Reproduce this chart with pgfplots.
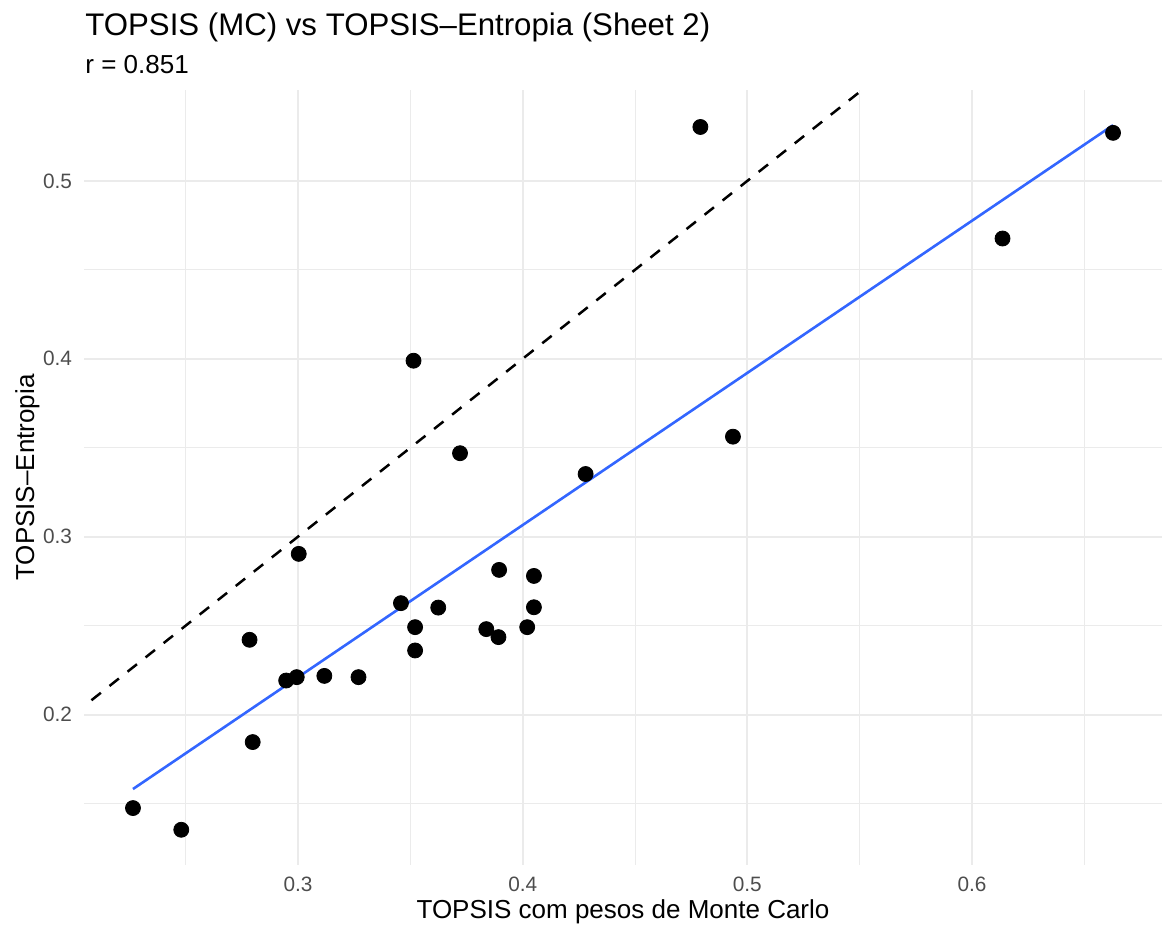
\documentclass[border=0pt]{standalone}
\usepackage{fontspec}
\setmainfont{Liberation Sans}
\usepackage{pgfplots}
\pgfplotsset{compat=1.18}
\definecolor{gridmaj}{HTML}{EBEBEB}
\definecolor{ticklab}{HTML}{4D4D4D}
\definecolor{smoothblue}{HTML}{3366FF}
\begin{document}
\begin{tikzpicture}
\useasboundingbox (0,0) rectangle (581pt,464.5pt);
\begin{axis}[
 at={(42pt,32pt)}, anchor=south west,
 scale only axis, width=539pt, height=387.5pt,
 xmin=0.2047, xmax=0.6846, ymin=0.1154, ymax=0.5511,
 xtick={0.3,0.4,0.5,0.6}, ytick={0.2,0.3,0.4,0.5},
 minor xtick={0.25,0.35,0.45,0.55,0.65}, minor ytick={0.15,0.25,0.35,0.45},
 xticklabels={0.3,0.4,0.5,0.6}, yticklabels={0.2,0.3,0.4,0.5},
 grid=both,
 major grid style={draw=gridmaj, line width=1pt},
 minor grid style={draw=gridmaj, line width=0.5pt},
 axis line style={draw=none},
 tick style={draw=none},
 ticklabel style={font=\fontsize{10.4}{12}\selectfont, text=ticklab},
 xticklabel style={yshift=-2.5pt},
 yticklabel style={xshift=-2.5pt},
 /pgf/number format/assume math mode=true,
 clip=true,
]
\addplot[black, line width=1.25pt, dash pattern=on 6pt off 5.5pt] coordinates {(0.2,0.2) (0.6,0.6)};
\addplot[smoothblue, line width=1.3pt] coordinates {(0.2265,0.1581) (0.6628,0.5313)};
\addplot[only marks, mark=*, mark size=3.75pt, black] coordinates {
(0.2265,0.1474) (0.2480,0.1352) (0.2784,0.2420) (0.2798,0.1845)
(0.2947,0.2191) (0.2994,0.2210) (0.3117,0.2217) (0.3269,0.2210)
(0.3458,0.2626) (0.3624,0.2601) (0.3521,0.2491) (0.3521,0.2360)
(0.3514,0.3989) (0.3721,0.3469) (0.4280,0.3352) (0.3003,0.2903)
(0.3895,0.2813) (0.4050,0.2779) (0.4050,0.2603) (0.3838,0.2480)
(0.3892,0.2435) (0.4020,0.2491) (0.4791,0.5303) (0.6628,0.5270)
(0.6136,0.4676) (0.4936,0.3562)
};
\end{axis}
\node[anchor=base west, inner sep=0pt, font=\fontsize{15.6}{18}\selectfont] at (42.5pt,446.5pt) {TOPSIS (MC) vs TOPSIS–Entropia (Sheet 2)};
\node[anchor=base west, inner sep=0pt, font=\fontsize{13}{15}\selectfont] at (42.5pt,427.5pt) {r = 0.851};
\node[anchor=base, inner sep=0pt, font=\fontsize{13}{15}\selectfont] at (311.5pt,5pt) {TOPSIS com pesos de Monte Carlo};
\node[anchor=base, rotate=90, inner sep=0pt, font=\fontsize{13}{15}\selectfont] at (17pt,225.75pt) {TOPSIS–Entropia};
\end{tikzpicture}
\end{document}
